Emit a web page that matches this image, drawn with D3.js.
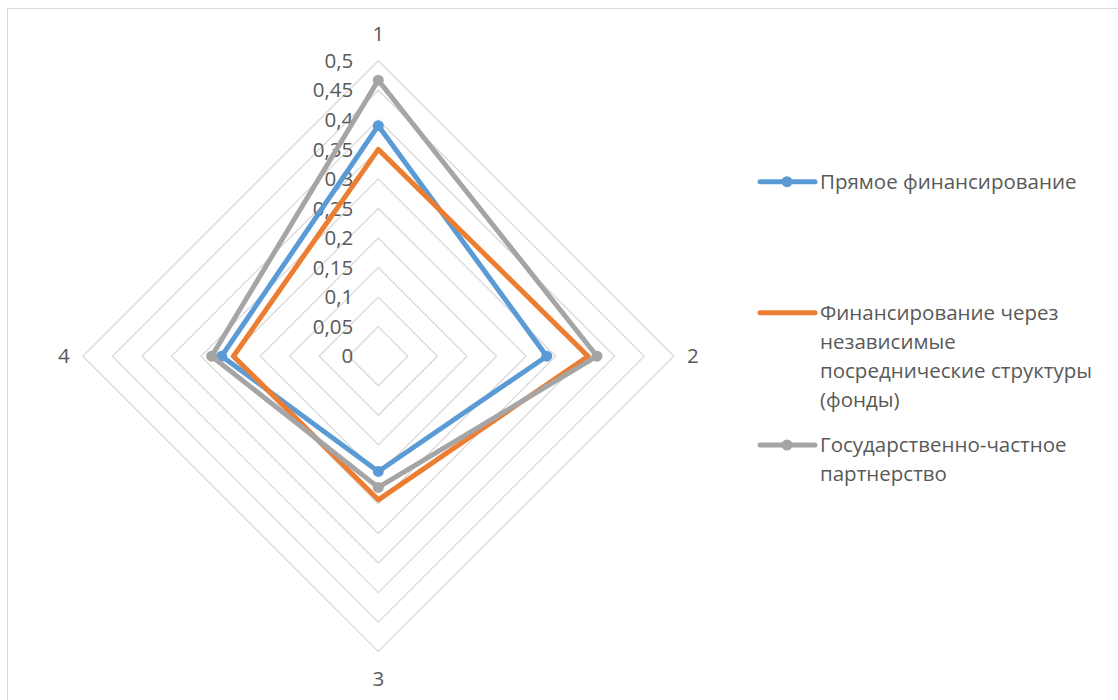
<!DOCTYPE html>
<html>
<head>
<meta charset="utf-8">
<script src="https://cdn.jsdelivr.net/npm/d3@7"></script>
<style>
  body { margin: 0; background: #fff; }
  svg { display: block; font-family: "Open Sans", "Noto Sans", sans-serif; }
</style>
</head>
<body>
<svg id="chart" width="1118" height="700"></svg>
<script>
const axes = ["1", "2", "3", "4"]
const ticks = [0, 0.05, 0.1, 0.15, 0.2, 0.25, 0.3, 0.35, 0.4, 0.45, 0.5]
const directValues = [0.39, 0.285, 0.195, 0.265]
const fundValues = [0.35, 0.355, 0.243, 0.245]
const pppValues = [0.467, 0.37, 0.222, 0.282]
const seriesNames = [
  ["Прямое финансирование"],
  ["Финансирование через", "независимые", "посреднические структуры", "(фонды)"],
  ["Государственно-частное", "партнерство"]
]

const series = [
  { name: seriesNames[0], values: directValues, color: "#5b9bd5", marker: true },
  { name: seriesNames[1], values: fundValues, color: "#ed7d31", marker: false },
  { name: seriesNames[2], values: pppValues, color: "#a5a5a5", marker: true }
]

const svg = d3.select("#chart")
const cx = 378.3, cy = 356.2, R = 295.5
const textColor = "#595959"
const fontSize = 20.5

// frame of the chart area (cut by the picture on right and bottom)
svg.append("rect")
  .attr("x", 7.5).attr("y", 8.5)
  .attr("width", 1300).attr("height", 900)
  .attr("fill", "none").attr("stroke", "#d9d9d9")

const r = d3.scaleLinear().domain([0, 0.5]).range([0, R])
const angle = d3.scaleBand().domain(axes).range([0, 2 * Math.PI])

const pointAt = (i, v) => {
  const a = angle(axes[i])
  return [cx + Math.sin(a) * r(v), cy - Math.cos(a) * r(v)]
}

// grid rings
const grid = svg.append("g")
ticks.slice(1).forEach(t => {
  grid.append("polygon")
    .attr("points", axes.map((d, i) => pointAt(i, t).join(",")).join(" "))
    .attr("fill", "none")
    .attr("stroke", "#d9d9d9")
    .attr("stroke-width", 1.3)
})

// tick labels
const fmt = d => String(d).replace(".", ",")
svg.append("g").selectAll("text")
  .data(ticks)
  .join("text")
  .attr("x", cx - 25)
  .attr("y", d => cy - r(d))
  .attr("dy", "0.35em")
  .attr("text-anchor", "end")
  .attr("font-size", fontSize)
  .attr("fill", textColor)
  .text(fmt)

// axis labels
svg.append("g").selectAll("text")
  .data(axes)
  .join("text")
  .attr("x", (d, i) => pointAt(i, 0.5)[0] + Math.sin(angle(d)) * 19)
  .attr("y", (d, i) => pointAt(i, 0.5)[1] - Math.cos(angle(d)) * 27)
  .attr("dy", "0.35em")
  .attr("text-anchor", "middle")
  .attr("font-size", fontSize)
  .attr("fill", textColor)
  .text(d => d)

// series
const line = d3.line().curve(d3.curveLinearClosed)
series.forEach(s => {
  const pts = s.values.map((v, i) => pointAt(i, v))
  const g = svg.append("g")
  g.append("path")
    .attr("d", line(pts))
    .attr("fill", "none")
    .attr("stroke", s.color)
    .attr("stroke-width", 5)
    .attr("stroke-linejoin", "round")
  if (s.marker) {
    g.selectAll("circle")
      .data(pts)
      .join("circle")
      .attr("cx", d => d[0])
      .attr("cy", d => d[1])
      .attr("r", 5.5)
      .attr("fill", s.color)
  }
})

// legend
const legendY = [181.7, 312.7, 445]
const lineH = 29
const legend = svg.append("g")
series.forEach((s, i) => {
  const y = legendY[i]
  legend.append("line")
    .attr("x1", 760).attr("x2", 815)
    .attr("y1", y).attr("y2", y)
    .attr("stroke", s.color)
    .attr("stroke-width", 5)
    .attr("stroke-linecap", "round")
  if (s.marker) {
    legend.append("circle")
      .attr("cx", 787).attr("cy", y).attr("r", 5.5)
      .attr("fill", s.color)
  }
  const txt = legend.append("text")
    .attr("x", 820)
    .attr("y", y)
    .attr("font-size", fontSize)
    .attr("fill", textColor)
  s.name.forEach((ln, k) => {
    txt.append("tspan")
      .attr("x", 820)
      .attr("y", y + k * lineH)
      .attr("dy", "0.35em")
      .text(ln)
  })
})
</script>
</body>
</html>
